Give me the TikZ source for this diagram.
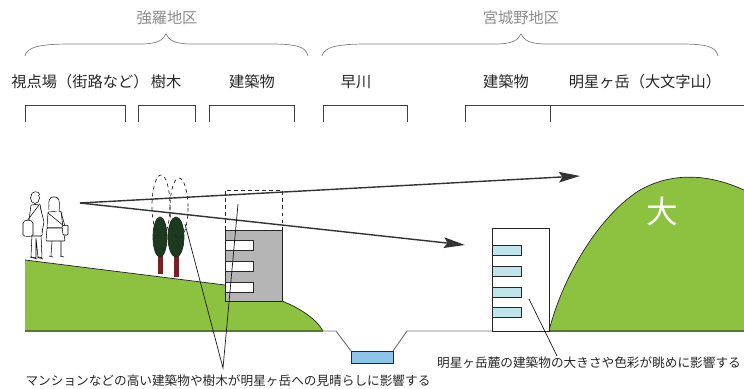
\documentclass[tikz,border=0pt]{standalone}
\usepackage{fontspec}
\setmainfont{Noto Sans CJK JP}
\usetikzlibrary{arrows.meta}

\definecolor{grass}{HTML}{8CC23F}
\definecolor{soil}{HTML}{55782A}
\definecolor{leaf}{HTML}{1B3A1E}
\definecolor{trunk}{HTML}{7A1F25}
\definecolor{concrete}{HTML}{B5B5B6}
\definecolor{pane}{HTML}{C0E4EC}
\definecolor{water}{HTML}{8CC4EA}

\begin{document}
\begin{tikzpicture}[
    x=0.03cm, y=-0.03cm,
    area/.style={font=\fontsize{13}{15}\selectfont, text=black!45},
    part/.style={font=\fontsize{13}{15}\selectfont, text=black!85},
    note/.style={font=\fontsize{10.8}{13}\selectfont, text=black!85, inner sep=0pt},
    brace/.style={draw=black!50, line width=0.6pt},
    bracket/.style={draw=black!75, line width=0.8pt},
    outline/.style={draw=black!85, line width=0.6pt},
    sight/.style={draw=black!80, line width=1.2pt,
                  -{Stealth[length=18pt, width=9pt, inset=3pt]}},
    leader/.style={draw=black!90, line width=0.6pt},
    walker/.style={draw=black, line width=0.45pt, fill=white, rounded corners=0.6pt},
  ]
  \useasboundingbox (0,0) rectangle (744,389);

  % districts
  \node[area] (gora) at (167,18) {強羅地区};
  \node[area] (miyagino) at (521,18) {宮城野地区};
  \draw[brace] (25,56) .. controls (27,47) and (40,44) .. (70,44) -- (140,44)
    .. controls (158,44) and (163,40) .. (166,34)
    .. controls (169,40) and (174,44) .. (192,44) -- (270,44)
    .. controls (298,44) and (306,47) .. (308,56);
  \draw[brace] (322,56) .. controls (324,47) and (337,44) .. (367,44) -- (495,44)
    .. controls (513,44) and (518,40) .. (521,34)
    .. controls (524,40) and (529,44) .. (547,44) -- (680,44)
    .. controls (708,44) and (716,47) .. (718,56);

  % parts of the view
  \node[part] (viewpoint) at (80,82) {視点場（街路など）};
  \node[part] (trees) at (166,82) {樹木};
  \node[part] (bldgNear) at (252,82) {建築物};
  \node[part] (river) at (356,82) {早川};
  \node[part] (bldgFoot) at (506,82) {建築物};
  \node[part] (mount) at (645,82) {明星ヶ岳（大文字山）};
  \draw[bracket] (25,122) |- (125,105) -- (125,122);
  \draw[bracket] (138,122) |- (195,105) -- (195,122);
  \draw[bracket] (209,122) |- (294,105) -- (294,122);
  \draw[bracket] (323,122) |- (407,105) -- (407,122);
  \draw[bracket] (465,122) |- (744,105);
  \draw[bracket] (550,105) -- (550,122);

  % ground, river
  \fill[grass] (25,260) -- (225,285) -- (282,301)
    .. controls (302,309) and (317,320) .. (323,331) -- (25,331) -- cycle;
  \draw[outline] (25,260) -- (225,285);
  \draw[outline] (282,301) .. controls (302,309) and (317,320) .. (323,331);
  \fill[grass] (549,331) .. controls (563,275) and (600,215) .. (640,190)
    .. controls (665,176) and (700,170) .. (744,190) -- (744,331) -- cycle;
  \draw[outline] (549,331) .. controls (563,275) and (600,215) .. (640,190)
    .. controls (665,176) and (700,170) .. (744,190);
  \node[text=white, font=\fontsize{27}{30}\selectfont] (dai) at (662,211) {大};
  \draw[black!55, line width=0.8pt] (25,331) -- (336,331) -- (351,351);
  \draw[black!55, line width=0.8pt] (393,351) -- (407,331) -- (744,331);
  \draw[soil, line width=1pt] (25,331) -- (323,331);
  \draw[soil, line width=1pt] (549,331) -- (744,331);
  \filldraw[fill=water, outline] (351,351) rectangle (393,363);

  % walkers
  \draw[walker] (32,234) -- (31,257) -- (36,258) -- (36,238) -- (38,257)
    -- (42,258) -- (41,234);
  \draw[walker] (31,205) -- (40,204) -- (43,222) -- (42,236) -- (30,236)
    -- (29,220) -- cycle;
  \draw[walker] (35,198) ellipse [x radius=4.5, y radius=5.5];
  \draw[walker] (31,196) .. controls (31,191) and (39,190) .. (40,195);
  \draw[walker] (40,206) -- (44,222) -- (42,232);
  \draw[walker] (39,205) -- (27,221);
  \draw[walker] (23,224) .. controls (23,219) and (33,219) .. (33,224)
    -- (33,234) .. controls (33,237) and (23,237) .. (23,234) -- cycle;
  \draw[walker] (30,257) -- (37,259) (37,257) -- (43,259);
  \draw[walker] (52,241) -- (51,256) (61,241) -- (61,256);
  \draw[walker] (49,256) -- (53,257) (60,256) -- (64,257);
  \draw[walker] (48,212) -- (61,211) -- (63,228) -- (47,228) -- cycle;
  \draw[walker] (47,228) -- (63,228) -- (65,241) -- (46,241) -- cycle;
  \draw[walker] (54,203) ellipse [x radius=4.5, y radius=5.5];
  \draw[walker] (49,210) .. controls (48,199) and (50,197) .. (54,197)
    .. controls (59,197) and (60,200) .. (59,212);
  \draw[walker] (61,212) -- (66,230);
  \draw[walker] (48,213) -- (64,226);
  \draw[walker] (62,226) -- (68,225) -- (68,235) -- (63,235) -- cycle;

  % trees
  \fill[trunk] (158,255) rectangle (163,274);
  \fill[trunk] (174,256) rectangle (179,277);
  \filldraw[fill=leaf, outline] (160,237) ellipse [x radius=7, y radius=20];
  \filldraw[fill=leaf, outline] (176,237) ellipse [x radius=8, y radius=20];
  \draw[outline, dashed] (161,206) ellipse [x radius=9, y radius=31];
  \draw[outline, dashed] (179,208) ellipse [x radius=9, y radius=30];

  % near building
  \filldraw[fill=concrete, outline] (225,230) rectangle (282,301);
  \foreach \wy in {240,261,282}
    \filldraw[fill=white, outline] (225,\wy) rectangle (253,\wy+10);
  \draw[outline, dashed] (225,230) -- (225,190) -- (282,190) -- (282,230);

  % building at the foot
  \filldraw[fill=white, outline] (492,228) rectangle (549,331);
  \foreach \wy in {245,266,287,307}
    \filldraw[fill=pane, outline] (492,\wy) rectangle (521,\wy+10);

  % lines of sight
  \coordinate (eye) at (80,203);
  \coordinate (farTip) at (580,176);
  \coordinate (lowTip) at (465,245);
  \draw[sight] (eye) -- (farTip);
  \draw[sight] (eye) -- (lowTip);

  % notes
  \node[note] (noteHigh) at (228,381)
    {マンションなどの高い建築物や樹木が明星ヶ岳への見晴らしに影響する};
  \node[note] (noteFoot) at (589,363)
    {明星ヶ岳麓の建築物の大きさや色彩が眺めに影響する};
  \coordinate (treeTip) at (185,224);
  \coordinate (roofTip) at (238,204);
  \coordinate (vee) at (223,368);
  \draw[leader] (treeTip) -- (vee) -- (roofTip);
  \coordinate (footTip) at (529,299);
  \coordinate (footEnd) at (557,356);
  \draw[leader] (footTip) -- (footEnd);
\end{tikzpicture}
\end{document}
